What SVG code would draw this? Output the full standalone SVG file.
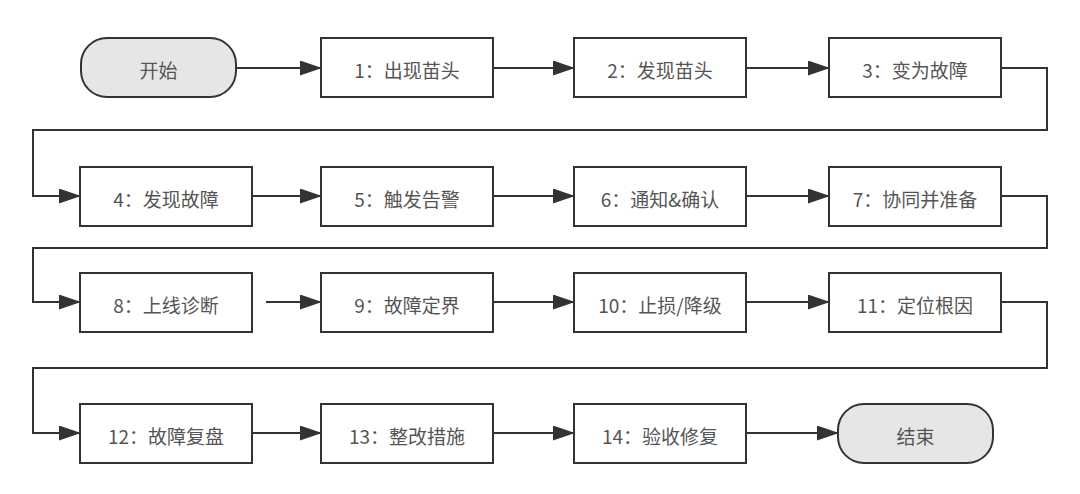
<svg xmlns="http://www.w3.org/2000/svg" width="1080" height="494" viewBox="0 0 1080 494">
<defs>
<marker id="arr" viewBox="0 0 22 15" refX="21" refY="7.5" markerWidth="22" markerHeight="15" markerUnits="userSpaceOnUse" orient="auto">
<path d="M0,0 L22,7.5 L0,15 z" fill="#333"/>
</marker>
<style>
.box{fill:#fff;stroke:#333;stroke-width:2}
.term{fill:#e6e6e6;stroke:#333;stroke-width:2}
.lbl{font-family:"Noto Sans CJK SC","Microsoft YaHei",sans-serif;font-size:19px;fill:#555;text-anchor:middle;dominant-baseline:central}
.con{fill:none;stroke:#333;stroke-width:2;marker-end:url(#arr)}
</style>
</defs>
<rect width="1080" height="494" fill="#fff"/>
<g id="connectors">
<path class="con" d="M236,68 H321"/>
<path class="con" d="M493,68 H574"/>
<path class="con" d="M746,68 H829"/>
<path class="con" d="M1001,68 H1047 V130 H33 V196 H80"/>
<path class="con" d="M252,196 H321"/>
<path class="con" d="M493,196 H574"/>
<path class="con" d="M746,196 H829"/>
<path class="con" d="M1001,196 H1047 V248 H33 V302 H80"/>
<path class="con" d="M266,302 H321"/>
<path class="con" d="M493,302 H574"/>
<path class="con" d="M746,302 H829"/>
<path class="con" d="M1001,302 H1047 V368 H33 V433 H80"/>
<path class="con" d="M252,433 H321"/>
<path class="con" d="M493,433 H574"/>
<path class="con" d="M746,433 H838"/>
</g>
<g id="start"><rect class="term" x="81" y="38" width="155" height="59" rx="26"/><text class="lbl" x="158.5" y="69.5">开始</text></g>
<g id="n1"><rect class="box" x="321" y="38" width="172" height="59"/><text class="lbl" x="407" y="69.5">1：出现苗头</text></g>
<g id="n2"><rect class="box" x="574" y="38" width="172" height="59"/><text class="lbl" x="660" y="69.5">2：发现苗头</text></g>
<g id="n3"><rect class="box" x="829" y="38" width="172" height="59"/><text class="lbl" x="915" y="69.5">3：变为故障</text></g>
<g id="n4"><rect class="box" x="80" y="167" width="172" height="59"/><text class="lbl" x="166" y="198.5">4：发现故障</text></g>
<g id="n5"><rect class="box" x="321" y="167" width="172" height="59"/><text class="lbl" x="407" y="198.5">5：触发告警</text></g>
<g id="n6"><rect class="box" x="574" y="167" width="172" height="59"/><text class="lbl" x="660" y="198.5">6：通知&amp;确认</text></g>
<g id="n7"><rect class="box" x="829" y="167" width="172" height="59"/><text class="lbl" x="915" y="198.5">7：协同并准备</text></g>
<g id="n8"><rect class="box" x="80" y="273" width="172" height="59"/><text class="lbl" x="166" y="304.5">8：上线诊断</text></g>
<g id="n9"><rect class="box" x="321" y="273" width="172" height="59"/><text class="lbl" x="407" y="304.5">9：故障定界</text></g>
<g id="n10"><rect class="box" x="574" y="273" width="172" height="59"/><text class="lbl" x="660" y="304.5">10：止损/降级</text></g>
<g id="n11"><rect class="box" x="829" y="273" width="172" height="59"/><text class="lbl" x="915" y="304.5">11：定位根因</text></g>
<g id="n12"><rect class="box" x="80" y="404" width="172" height="59"/><text class="lbl" x="166" y="435.5">12：故障复盘</text></g>
<g id="n13"><rect class="box" x="321" y="404" width="172" height="59"/><text class="lbl" x="407" y="435.5">13：整改措施</text></g>
<g id="n14"><rect class="box" x="574" y="404" width="172" height="59"/><text class="lbl" x="660" y="435.5">14：验收修复</text></g>
<g id="end"><rect class="term" x="838" y="404" width="155" height="59" rx="26"/><text class="lbl" x="915.5" y="435.5">结束</text></g>
</svg>
